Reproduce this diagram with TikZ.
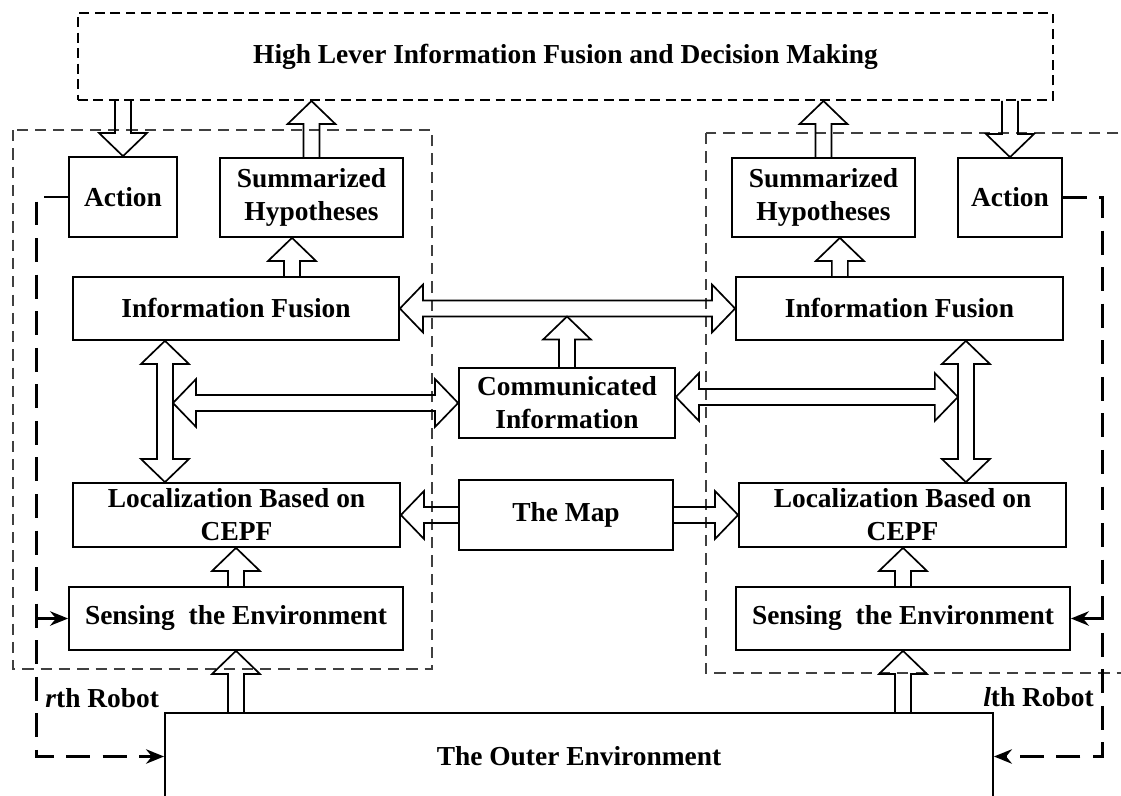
\documentclass[tikz,border=0pt]{standalone}
\usepackage{fontspec}
\setmainfont{Liberation Serif}
\usetikzlibrary{arrows.meta,calc,positioning}
\tikzset{
  blockbox/.style={draw,line width=1.2pt,font=\bfseries\fontsize{19.5}{23.5}\selectfont,align=center,inner sep=0pt},
  topframe/.style={line width=1.4pt,dash pattern=on 7pt off 4pt},
  robotframe/.style={draw=black!75,line width=1.3pt,dash pattern=on 8pt off 5pt},
  fatarrow/.style={draw,line width=1.2pt,line join=miter},
  feedback/.style={draw,line width=2pt,dash pattern=on 17pt off 9pt,-{Stealth[length=4.5mm,width=3.6mm]}},
  fbtip/.style={draw,line width=1.8pt,-{Stealth[length=4.5mm,width=3.6mm]}},
  robotlabel/.style={font=\bfseries\fontsize{19.5}{23.5}\selectfont,anchor=west,inner sep=0pt},
}
% hollow block arrow from #1 to #2 (head at #2)
\newcommand{\FatArrow}[2]{%
  \path[fatarrow] let \p1=(#1), \p2=(#2),
    \n1={veclen(\x2-\x1,\y2-\y1)}, \n2={atan2(\y2-\y1,\x2-\x1)} in
    [shift={(\p1)},rotate=\n2]
    (0pt,-5.7pt) -- ({\n1-16.4pt},-5.7pt) -- ({\n1-16.4pt},-17pt) -- (\n1,0pt)
    -- ({\n1-16.4pt},17pt) -- ({\n1-16.4pt},5.7pt) -- (0pt,5.7pt);%
}
% hollow block arrow with heads at both ends
\newcommand{\FatDArrow}[2]{%
  \path[fatarrow] let \p1=(#1), \p2=(#2),
    \n1={veclen(\x2-\x1,\y2-\y1)}, \n2={atan2(\y2-\y1,\x2-\x1)} in
    [shift={(\p1)},rotate=\n2]
    (0pt,0pt) -- (16.4pt,17pt) -- (16.4pt,5.7pt) -- ({\n1-16.4pt},5.7pt)
    -- ({\n1-16.4pt},17pt) -- (\n1,0pt) -- ({\n1-16.4pt},-17pt) -- ({\n1-16.4pt},-5.7pt)
    -- (16.4pt,-5.7pt) -- (16.4pt,-17pt) -- cycle;%
}

\begin{document}
\begin{tikzpicture}[x=0.025cm,y=-0.025cm]
\useasboundingbox (0,0) rectangle (1121,796);

% Robot frames.
\draw[robotframe] (13,130) rectangle (432,669);
\draw[robotframe] (706,133) rectangle (1140,673);

% Top level.
\node[blockbox,topframe,minimum width=24.375cm,minimum height=2.175cm] (hlf) at (565.5,56.5) {High Lever Information Fusion and Decision Making};

% rth robot.
\node[blockbox,minimum width=2.7cm,minimum height=2cm] (actL) at (123,197) {Action};
\node[blockbox,minimum width=4.575cm,minimum height=1.975cm] (sumL) at (311.5,197.5) {Summarized\\Hypotheses};
\node[blockbox,minimum width=8.15cm,minimum height=1.575cm] (fusL) at (236,308.5) {Information Fusion};
\node[blockbox,minimum width=8.175cm,minimum height=1.6cm] (locL) at (236.5,515) {Localization Based on\\CEPF};
\node[blockbox,minimum width=8.35cm,minimum height=1.575cm] (senL) at (236,618.5) {Sensing\ \ the Environment};
\node[robotlabel] (robL) at (45,698) {\textit{r}th Robot};

% Shared blocks.
\node[blockbox,minimum width=5.4cm,minimum height=1.75cm] (comm) at (567,403) {Communicated\\Information};
\node[blockbox,minimum width=5.35cm,minimum height=1.75cm] (map) at (566,515) {The Map};

% lth robot.
\node[blockbox,minimum width=4.575cm,minimum height=1.975cm] (sumR) at (823.5,197.5) {Summarized\\Hypotheses};
\node[blockbox,minimum width=2.6cm,minimum height=1.975cm] (actR) at (1010,197.5) {Action};
\node[blockbox,minimum width=8.175cm,minimum height=1.575cm] (fusR) at (899.5,308.5) {Information Fusion};
\node[blockbox,minimum width=8.175cm,minimum height=1.6cm] (locR) at (902.5,515) {Localization Based on\\CEPF};
\node[blockbox,minimum width=8.35cm,minimum height=1.575cm] (senR) at (903,618.5) {Sensing\ \ the Environment};
\node[robotlabel] (robR) at (983,697) {\textit{l}th Robot};

\node[blockbox,minimum width=20.7cm,minimum height=2.175cm] (outer) at (579,756.5) {The Outer Environment};

% Helper points for the block arrows.
\coordinate (fusLup) at ($(fusL.north)+(1.4cm,0)$);
\coordinate (fusRup) at ($(fusR.north)+(-1.49cm,0)$);
\coordinate (vL) at ($(fusL.south)+(-1.775cm,0)$);
\coordinate (vR) at ($(fusR.south)+(1.66cm,0)$);
\coordinate (hL) at ($(vL |- comm.west)+(0.2cm,0)$);
\coordinate (hRa) at ($(comm.east)+(0,0.15cm)$);
\coordinate (hRb) at ($(vR |- hRa)+(-0.2cm,0)$);
\coordinate (bus) at ($(comm.north |- fusL.east)+(0,-0.2cm)$);

% Block arrows.
\FatArrow{actL.north |- hlf.south}{actL.north}
\FatArrow{sumL.north}{sumL.north |- hlf.south}
\FatArrow{sumR.north}{sumR.north |- hlf.south}
\FatArrow{actR.north |- hlf.south}{actR.north}
\FatArrow{fusLup}{fusLup |- sumL.south}
\FatArrow{fusRup}{fusRup |- sumR.south}
\FatArrow{senL.north}{senL.north |- locL.south}
\FatArrow{senR.north}{senR.north |- locR.south}
\FatArrow{senL.south |- outer.north}{senL.south}
\FatArrow{senR.south |- outer.north}{senR.south}
\FatArrow{comm.north}{bus}
\FatArrow{map.west}{locL.east}
\FatArrow{map.east}{locR.west}
\FatDArrow{fusL.east}{fusR.west}
\FatDArrow{vL}{vL |- locL.north}
\FatDArrow{hL}{comm.west}
\FatDArrow{hRa}{hRb}
\FatDArrow{vR}{vR |- locR.north}

% Action feedback loops.
\coordinate (fbL) at ($(actL.west)+(-0.8cm,0)$);
\coordinate (fbR) at ($(actR.east)+(1cm,0)$);
\draw[feedback] (actL.west) -- (fbL) |- (outer.west);
\draw[feedback] (actR.east) -- (fbR) |- (outer.east);
\draw[fbtip] (senL.west -| fbL) -- (senL.west);
\draw[fbtip] (senR.east -| fbR) -- (senR.east);
\end{tikzpicture}
\end{document}
